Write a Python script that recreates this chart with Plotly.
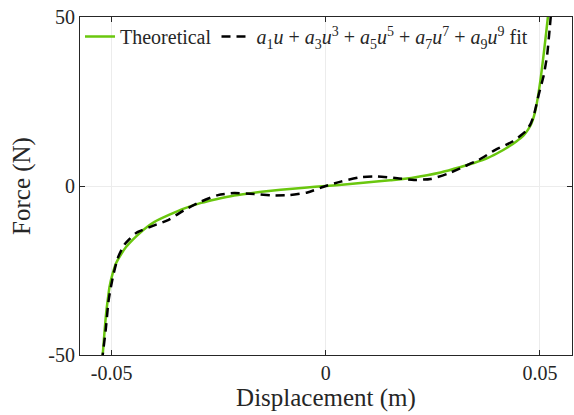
import plotly.graph_objects as go

# Theoretical force-displacement curve
u_theory = [-0.0523, -0.0521, -0.0517, -0.0513, -0.0509, -0.0505, -0.0498, -0.0490, -0.0478,
            -0.0466, -0.0450, -0.0435, -0.0416, -0.0400, -0.0365, -0.0330, -0.0291, -0.0256,
            -0.0214, -0.0150, -0.0105, -0.0050, 0.0, 0.0050, 0.0100, 0.0150, 0.0175, 0.0200,
            0.0268, 0.0315, 0.0346, 0.0380, 0.0408, 0.0424, 0.0445, 0.0462, 0.0472, 0.0480,
            0.0486, 0.0491, 0.0496, 0.0501, 0.0507, 0.0513, 0.0517, 0.0520, 0.0523]
F_theory = [-53.0, -50.0, -43.5, -37.7, -33.5, -29.8, -26.0, -22.9, -20.2,
            -18.0, -15.8, -14.0, -12.0, -10.6, -8.5, -6.6, -5.0, -3.9,
            -2.8, -1.7, -1.1, -0.5, 0.0, 0.5, 1.1, 1.7, 2.0, 2.4,
            4.0, 5.6, 6.8, 8.4, 10.2, 11.4, 13.2, 15.0, 16.6, 18.4,
            20.6, 23.2, 26.8, 31.0, 37.0, 43.5, 48.0, 51.5, 55.0]

# 9th-order odd polynomial fit
u_fit = [-0.0523, -0.0514, -0.0507, -0.0497, -0.0486, -0.0470, -0.0443, -0.0404, -0.0367,
         -0.0330, -0.0291, -0.0252, -0.0214, -0.0167, -0.0124, -0.0085, -0.0043, 0.0,
         0.0035, 0.0082, 0.0120, 0.0167, 0.0206, 0.0245, 0.0284, 0.0322, 0.0357, 0.0396,
         0.0435, 0.0466, 0.0478, 0.0486, 0.0497, 0.0509, 0.0517, 0.0523, 0.0526]
F_fit = [-52.0, -42.6, -33.7, -26.8, -21.4, -17.3, -13.9, -11.8, -10.0,
         -7.1, -4.6, -2.7, -2.1, -2.4, -2.8, -2.7, -1.9, 0.0,
         1.3, 2.6, 2.8, 2.3, 1.8, 2.1, 3.6, 5.7, 7.7, 10.7,
         13.1, 16.1, 18.3, 21.0, 26.9, 32.8, 38.8, 46.7, 51.0]

x_tickvals = [-0.05, 0, 0.05]
x_ticktext = ["-0.05", "0", "0.05"]
y_tickvals = [-50, 0, 50]
y_ticktext = ["-50", "0", "50"]

PLUS = " + "
fit_label = ("<i>a</i><sub>1</sub><i>u</i>" + PLUS + "<i>a</i><sub>3</sub><i>u</i><sup>3</sup>" + PLUS +
             "<i>a</i><sub>5</sub><i>u</i><sup>5</sup>" + PLUS + "<i>a</i><sub>7</sub><i>u</i><sup>7</sup>" + PLUS +
             "<i>a</i><sub>9</sub><i>u</i><sup>9</sup> fit")

FONT = "Liberation Serif, DejaVu Serif, serif"
TXT = "#262626"

fig = go.Figure()
fig.add_trace(go.Scatter(x=u_theory, y=F_theory, mode="lines", name="Theoretical",
                         line=dict(color="#6ac70e", width=2.5, shape="spline", smoothing=0.6)))
fig.add_trace(go.Scatter(x=u_fit, y=F_fit, mode="lines", name=fit_label,
                         line=dict(color="black", width=2.5, dash="9px,6px", shape="spline", smoothing=0.6)))

axis_common = dict(showline=True, linecolor=TXT, linewidth=1, mirror="ticks",
                   ticks="inside", ticklen=5, tickcolor=TXT, automargin=False,
                   showgrid=True, gridcolor="#ececec", gridwidth=1, zeroline=False,
                   tickfont=dict(family=FONT, size=20, color=TXT))

fig.update_layout(
    width=574, height=415,
    margin=dict(l=80, r=2, t=17, b=60, autoexpand=False),
    paper_bgcolor="white", plot_bgcolor="white",
    font=dict(family=FONT, color=TXT),
    xaxis=dict(range=[-0.0574, 0.0575], tickvals=x_tickvals, ticktext=x_ticktext,
               title=dict(text="Displacement (m)", font=dict(family=FONT, size=25, color=TXT), standoff=2),
               **axis_common),
    yaxis=dict(range=[-50, 50], tickvals=y_tickvals, ticktext=y_ticktext,
               title=dict(text="Force (N)", font=dict(family=FONT, size=25, color=TXT), standoff=10),
               **axis_common),
    legend=dict(orientation="h", x=0.0, y=1.0, xanchor="left", yanchor="top",
                bgcolor="rgba(255,255,255,0)", font=dict(family=FONT, size=20, color=TXT),
                itemwidth=30, tracegroupgap=0),
    showlegend=True,
)

fig.write_html("out.html", config={"displayModeBar": False},
               post_script="document.body.style.margin='0';document.body.style.padding='0';")
